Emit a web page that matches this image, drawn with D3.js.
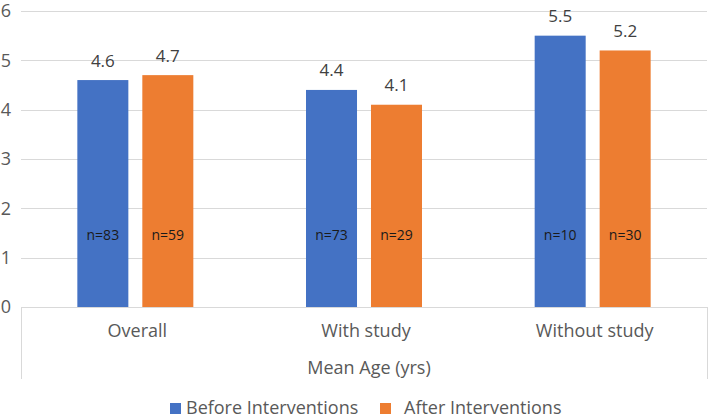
<!DOCTYPE html>
<html>
<head>
<meta charset="utf-8">
<script src="https://cdn.jsdelivr.net/npm/d3@7"></script>
<style>
  html, body { margin: 0; padding: 0; background: #fff; }
  svg { display: block; }
  text { font-family: "Open Sans", sans-serif; }
</style>
</head>
<body>
<div id="chart"></div>
<script>
const categories = ["Overall", "With study", "Without study"];
const seriesNames = ["Before Interventions", "After Interventions"];
const beforeValues = [4.6, 4.4, 5.5];
const afterValues = [4.7, 4.1, 5.2];
const beforeN = ["n=83", "n=73", "n=10"];
const afterN = ["n=59", "n=29", "n=30"];
const yTicks = [0, 1, 2, 3, 4, 5, 6];
const axisTitle = "Mean Age (yrs)";
const colors = ["#4472C4", "#ED7D31"];

(function () {
const W = 709, H = 420;
const svg = d3.select("#chart").append("svg").attr("width", W).attr("height", H);

const pL = 21, pR = 707, pT = 11, pB = 307;
const y = d3.scaleLinear().domain([0, 6]).range([pB, pT]);
const x0 = d3.scaleBand().domain(categories).range([pL, pR]).paddingInner(0).paddingOuter(0);
const x1 = d3.scaleBand().domain(seriesNames).range([0, x0.bandwidth()]).paddingInner(0.215).paddingOuter(0.867);

// gridlines
svg.append("g").selectAll("line").data(yTicks).join("line")
  .attr("x1", pL).attr("x2", pR)
  .attr("y1", d => Math.round(y(d)) + 0.5).attr("y2", d => Math.round(y(d)) + 0.5)
  .attr("stroke", "#d9d9d9").attr("stroke-width", 1);

// y tick labels
svg.append("g").selectAll("text").data(yTicks).join("text")
  .attr("x", 11).attr("y", d => y(d)).attr("dy", "0.35em")
  .attr("text-anchor", "end").attr("font-size", 18).attr("fill", "#595959")
  .text(d => d);

// category axis vertical lines
[pL, pR].forEach(xx => {
  svg.append("line").attr("x1", xx + 0.5).attr("x2", xx + 0.5)
    .attr("y1", pB).attr("y2", 379)
    .attr("stroke", "#d9d9d9").attr("stroke-width", 1);
});

const rows = categories.map((c, i) => ({
  cat: c,
  vals: [
    { s: seriesNames[0], v: beforeValues[i], n: beforeN[i], c: colors[0] },
    { s: seriesNames[1], v: afterValues[i], n: afterN[i], c: colors[1] }
  ]
}));

const groups = svg.append("g").selectAll("g").data(rows).join("g")
  .attr("transform", d => `translate(${x0(d.cat)},0)`);

groups.selectAll("rect").data(d => d.vals).join("rect")
  .attr("x", d => x1(d.s)).attr("width", x1.bandwidth())
  .attr("y", d => y(d.v)).attr("height", d => y(0) - y(d.v))
  .attr("fill", d => d.c);

groups.selectAll("text.val").data(d => d.vals).join("text").attr("class", "val")
  .attr("x", d => x1(d.s) + x1.bandwidth() / 2).attr("y", d => y(d.v) - 13.5)
  .attr("text-anchor", "middle").attr("font-size", 17).attr("fill", "#404040")
  .text(d => d.v.toFixed(1));

groups.selectAll("text.n").data(d => d.vals).join("text").attr("class", "n")
  .attr("x", d => x1(d.s) + x1.bandwidth() / 2).attr("y", y(1.5) + 6.5)
  .attr("text-anchor", "middle").attr("font-size", 14).attr("fill", "#1a1a1a")
  .text(d => d.n);

// category labels
svg.append("g").selectAll("text").data(categories).join("text")
  .attr("x", d => x0(d) + x0.bandwidth() / 2 + 2).attr("y", 337)
  .attr("text-anchor", "middle").attr("font-size", 18).attr("fill", "#595959")
  .text(d => d);

svg.append("text").attr("x", (pL + pR) / 2 + 5).attr("y", 374)
  .attr("text-anchor", "middle").attr("font-size", 18).attr("fill", "#595959")
  .text(axisTitle);

// legend
const legendX = [170, 380];
const lg = svg.append("g").selectAll("g").data(seriesNames).join("g")
  .attr("transform", (d, i) => `translate(${legendX[i]},0)`);
lg.append("rect").attr("x", 0).attr("y", 403).attr("width", 11).attr("height", 11)
  .attr("fill", (d, i) => colors[i]);
lg.append("text").attr("x", (d, i) => i === 0 ? 16 : 24).attr("y", 413.5)
  .attr("font-size", 18).attr("fill", "#595959").text(d => d);
})();
</script>
</body>
</html>
